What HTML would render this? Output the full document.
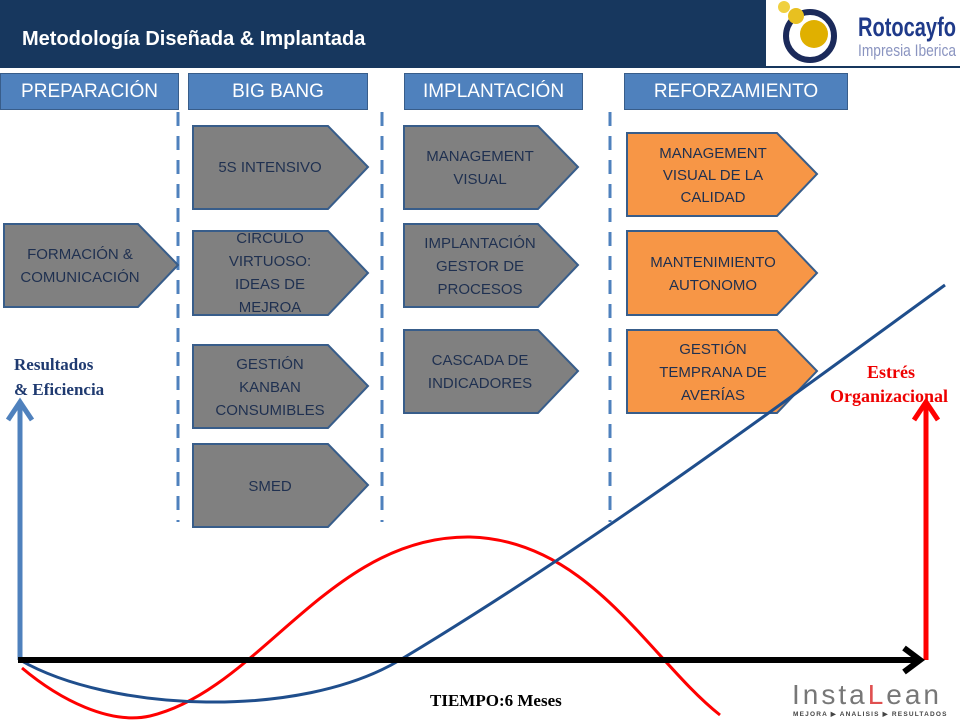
<!DOCTYPE html>
<html><head><meta charset="utf-8"><style>
body{margin:0;width:960px;height:720px;overflow:hidden;background:#fff;font-family:"Liberation Sans",sans-serif;position:relative}
.hdr{position:absolute;left:0;top:0;width:960px;height:68px;background:#17375e}
.title{position:absolute;left:22px;top:28px;color:#fff;font-weight:bold;font-size:20px}
.logo{position:absolute;left:766px;top:0;width:194px;height:66px;background:#fff}
.ph{position:absolute;top:73px;height:37px;background:#4f81bd;border:1px solid #385d8a;box-sizing:border-box;color:#fff;font-size:19px;text-align:center;line-height:36px}
</style></head><body>
<div class="hdr"></div>
<div class="title">Metodología Diseñada &amp; Implantada</div>
<div class="logo">
<svg width="194" height="66">
<circle cx="44" cy="36" r="24" fill="none" stroke="#1b2a5a" stroke-width="6"/>
<circle cx="48" cy="34" r="14" fill="#e0b000"/>
<circle cx="30" cy="16" r="8" fill="#e8c020"/>
<circle cx="18" cy="7" r="6" fill="#f0d040"/>
<text x="92" y="36" font-family="Liberation Sans" font-size="27" font-weight="bold" fill="#1f3a8a" textLength="98" lengthAdjust="spacingAndGlyphs">Rotocayfo</text>
<text x="92" y="56" font-family="Liberation Sans" font-size="17" fill="#8a94c0" textLength="98" lengthAdjust="spacingAndGlyphs">Impresia Iberica</text>
</svg></div>
<div class="ph" style="left:0;width:179px">PREPARACIÓN</div>
<div class="ph" style="left:188px;width:180px">BIG BANG</div>
<div class="ph" style="left:404px;width:179px">IMPLANTACIÓN</div>
<div class="ph" style="left:624px;width:224px">REFORZAMIENTO</div>
<svg width="960" height="720" style="position:absolute;left:0;top:0">
<g stroke="#4f81bd" stroke-width="3" stroke-dasharray="14 10">
<line x1="178" y1="112" x2="178" y2="522"/><line x1="382" y1="112" x2="382" y2="522"/><line x1="610" y1="112" x2="610" y2="522"/>
</g>
<g stroke="#385d8a" stroke-width="2" fill="#808080">
<polygon points="4,224 138,224 178,265 138,307 4,307"/>
<polygon points="193,126 328,126 368,167 328,209 193,209"/>
<polygon points="193,231 328,231 368,273 328,315 193,315"/>
<polygon points="193,345 328,345 368,386 328,428 193,428"/>
<polygon points="193,444 328,444 368,485 328,527 193,527"/>
<polygon points="404,126 538,126 578,167 538,209 404,209"/>
<polygon points="404,224 538,224 578,265 538,307 404,307"/>
<polygon points="404,330 538,330 578,371 538,413 404,413"/>
</g>
<g stroke="#385d8a" stroke-width="2" fill="#f79646">
<polygon points="627,133 777,133 817,174 777,216 627,216"/>
<polygon points="627,231 777,231 817,273 777,315 627,315"/>
<polygon points="627,330 777,330 817,371 777,413 627,413"/>
</g>
<g font-family="Liberation Sans" font-size="15" fill="#1f3050" text-anchor="middle">
<text x="80" y="259">FORMACIÓN &amp;</text><text x="80" y="282">COMUNICACIÓN</text>
<text x="270" y="172">5S INTENSIVO</text>
<text x="270" y="243">CIRCULO</text><text x="270" y="266">VIRTUOSO:</text><text x="270" y="289">IDEAS DE</text><text x="270" y="312">MEJROA</text>
<text x="270" y="369">GESTIÓN</text><text x="270" y="392">KANBAN</text><text x="270" y="415">CONSUMIBLES</text>
<text x="270" y="491">SMED</text>
<text x="480" y="161">MANAGEMENT</text><text x="480" y="184">VISUAL</text>
<text x="480" y="248">IMPLANTACIÓN</text><text x="480" y="271">GESTOR DE</text><text x="480" y="294">PROCESOS</text>
<text x="480" y="365">CASCADA DE</text><text x="480" y="388">INDICADORES</text>
<text x="713" y="158">MANAGEMENT</text><text x="713" y="180">VISUAL DE LA</text><text x="713" y="202">CALIDAD</text>
<text x="713" y="267">MANTENIMIENTO</text><text x="713" y="290">AUTONOMO</text>
<text x="713" y="354">GESTIÓN</text><text x="713" y="377">TEMPRANA DE</text><text x="713" y="400">AVERÍAS</text>
</g>
<g font-family="Liberation Serif" font-weight="bold" font-size="17">
<text x="14" y="370" fill="#1f3a70">Resultados</text><text x="14" y="395" fill="#1f3a70">&amp; Eficiencia</text>
<text x="891" y="378" fill="#e00" text-anchor="middle" font-size="18">Estrés</text><text x="889" y="402" fill="#e00" text-anchor="middle" font-size="18">Organizacional</text>
<text x="430" y="706" fill="#000">TIEMPO:6  Meses</text>
</g>
<path d="M20,660 L20,402 M8,420 L20,402 L32,420" stroke="#4f81bd" stroke-width="5" fill="none"/>
<path d="M926,660 L926,402 M914,420 L926,402 L938,420" stroke="#ff0000" stroke-width="5" fill="none"/>
<path d="M22,668 C60,700 110,725 150,716 C260,690 330,535 470,537 C590,540 650,660 720,715" stroke="#ff0000" stroke-width="3" fill="none"/>
<path d="M20,660 C110,712 300,720 400,660 C600,540 800,390 945,285" stroke="#1f4e8c" stroke-width="3" fill="none"/>
<path d="M18,660 L920,660 M904,648 L920,660 L904,672" stroke="#000" stroke-width="6" fill="none"/>
<text x="792" y="704" font-family="Liberation Sans" font-size="28" fill="#777" letter-spacing="3">Insta<tspan fill="#e05050">L</tspan>ean</text>
<text x="793" y="716" font-family="Liberation Sans" font-size="6.5" font-weight="bold" fill="#444" letter-spacing="1.2">MEJORA ▶ ANALISIS ▶ RESULTADOS</text>
</svg>
</body></html>
